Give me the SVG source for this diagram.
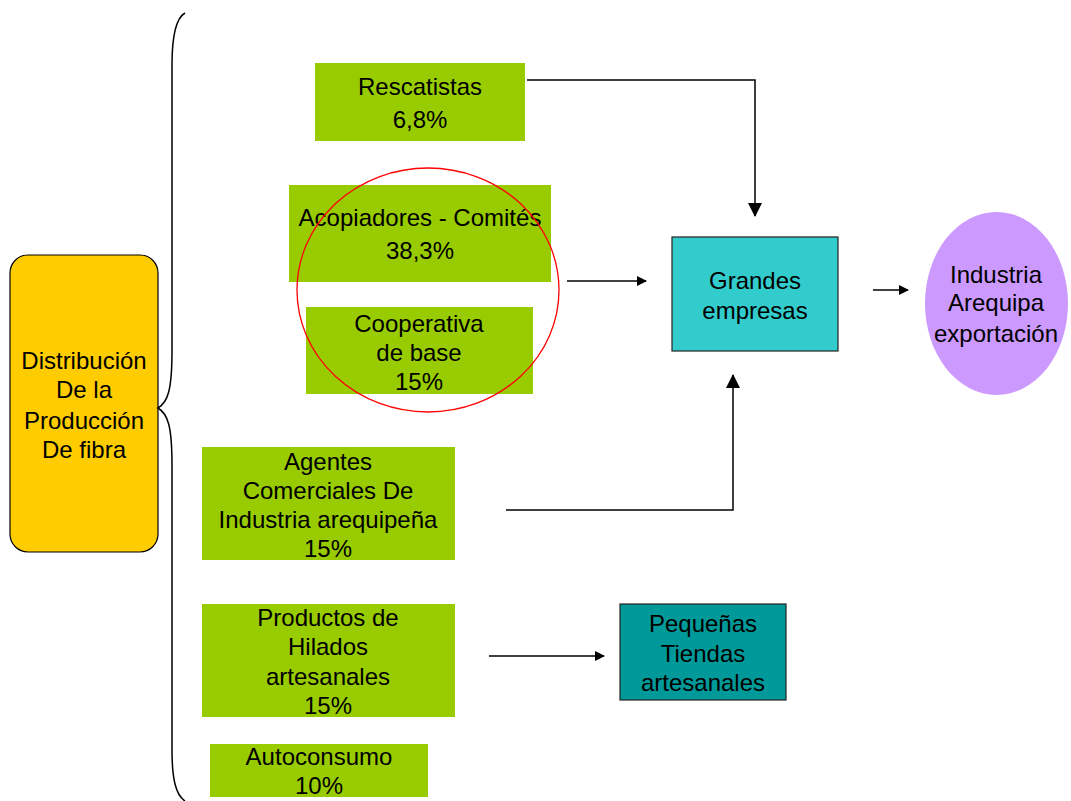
<svg xmlns="http://www.w3.org/2000/svg" width="1071" height="801" viewBox="0 0 1071 801">
<defs>
<marker id="ah" markerWidth="10" markerHeight="10" refX="9" refY="5" orient="auto" markerUnits="userSpaceOnUse">
<path d="M0,0 L10,5 L0,10 z" fill="#000"/>
</marker>
<marker id="ahb" markerWidth="14" markerHeight="14" refX="13" refY="7" orient="auto" markerUnits="userSpaceOnUse">
<path d="M0,0 L14,7 L0,14 z" fill="#000"/>
</marker>
<style>
text{font-family:"Liberation Sans",Arial,sans-serif;font-size:24px;fill:#000;text-anchor:middle}
.g{fill:#99CC00}
.c{stroke:#000;stroke-width:1.5;fill:none}
</style>
</defs>
<rect width="1071" height="801" fill="#fff"/>
<g id="distribucion">
<rect x="10" y="255" width="148" height="297" rx="18" fill="#FFCC00" stroke="#000" stroke-width="1.2"/>
<text x="84" y="369">Distribución</text>
<text x="84" y="398">De la</text>
<text x="84" y="429">Producción</text>
<text x="84" y="458">De fibra</text>
</g>
<g id="brace">
<path d="M185,13 C176,18 172,35 172,65 L172,350 C172,390 168,402 158,408 C168,414 172,426 172,466 L172,750 C172,780 176,795 185,801" class="c" stroke-width="1.3"/>
</g>
<g id="rescatistas">
<rect class="g" x="315" y="63" width="210" height="78"/>
<text x="420" y="95">Rescatistas</text>
<text x="420" y="128">6,8%</text>
</g>
<g id="acopiadores">
<rect class="g" x="289" y="185" width="262" height="97"/>
<text x="420" y="226">Acopiadores - Comités</text>
<text x="420" y="259">38,3%</text>
</g>
<g id="cooperativa">
<rect class="g" x="306" y="307" width="227" height="87"/>
<text x="419" y="332">Cooperativa</text>
<text x="419" y="361">de base</text>
<text x="419" y="390">15%</text>
</g>
<g id="circulo">
<ellipse cx="428" cy="290" rx="131" ry="122" fill="none" stroke="#FF0000" stroke-width="1.3"/>
</g>
<g id="agentes">
<rect class="g" x="202" y="447" width="253" height="113"/>
<text x="328" y="470">Agentes</text>
<text x="328" y="499">Comerciales De</text>
<text x="328" y="528">Industria arequipeña</text>
<text x="328" y="557">15%</text>
</g>
<g id="productos">
<rect class="g" x="202" y="604" width="253" height="113"/>
<text x="328" y="626">Productos de</text>
<text x="328" y="655">Hilados</text>
<text x="328" y="685">artesanales</text>
<text x="328" y="714">15%</text>
</g>
<g id="autoconsumo">
<rect class="g" x="210" y="744" width="218" height="53"/>
<text x="319" y="765">Autoconsumo</text>
<text x="319" y="794">10%</text>
</g>
<g id="grandes">
<rect x="672" y="237" width="166" height="114" fill="#33CCCC" stroke="#222" stroke-width="1.2"/>
<text x="755" y="289">Grandes</text>
<text x="755" y="319">empresas</text>
</g>
<g id="industria">
<ellipse cx="996.5" cy="303.5" rx="71.5" ry="91.5" fill="#CC99FF"/>
<text x="996" y="283">Industria</text>
<text x="996" y="311">Arequipa</text>
<text x="996" y="342">exportación</text>
</g>
<g id="pequenas">
<rect x="620" y="604" width="166" height="96" fill="#009999" stroke="#222" stroke-width="1.2"/>
<text x="703" y="632">Pequeñas</text>
<text x="703" y="662">Tiendas</text>
<text x="703" y="691">artesanales</text>
</g>
<g id="connectors">
<path d="M527,80 L755,80 L755,216" class="c" marker-end="url(#ahb)"/>
<path d="M567,281 L646,281" class="c" marker-end="url(#ah)"/>
<path d="M873,290 L908,290" class="c" marker-end="url(#ah)"/>
<path d="M506,510 L733,510 L733,375" class="c" marker-end="url(#ahb)"/>
<path d="M489,656 L604,656" class="c" marker-end="url(#ah)"/>
</g>
</svg>
